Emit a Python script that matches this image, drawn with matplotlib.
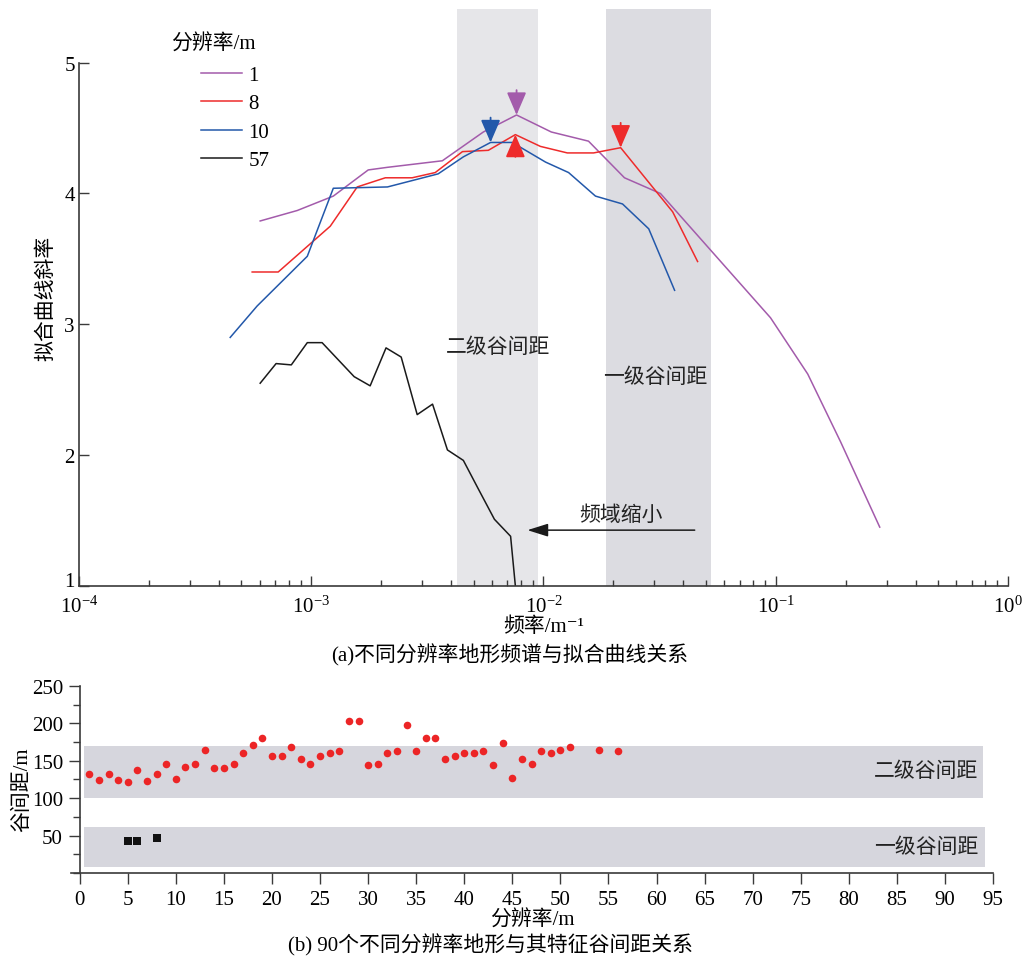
import matplotlib
matplotlib.use("Agg")
import matplotlib.pyplot as plt
import numpy as np
from matplotlib.ticker import LogLocator, LogFormatterMathtext, MultipleLocator
from matplotlib.transforms import ScaledTranslation

plt.rcParams['font.family'] = ['Liberation Serif', 'Noto Sans CJK SC', 'DejaVu Serif']
plt.rcParams['mathtext.fontset'] = 'stix'
plt.rcParams['axes.unicode_minus'] = True

# (a) frequency (1/m) vs fitted slope, per resolution
res_labels = ['1', '8', '10', '57']
res_colors = ['#a35bab', '#ee2b2b', '#2358aa', '#1a1a1a']

f_1m = [6.03e-4, 8.71e-4, 1.245e-3, 1.76e-3, 2.13e-3, 3.67e-3, 5.51e-3, 7.66e-3,
        1.081e-2, 1.563e-2, 2.233e-2, 3.19e-2, 9.5e-2, 0.1374, 0.1905, 0.2805]
s_1m = [3.79, 3.87, 3.98, 4.18, 4.20, 4.25, 4.47, 4.60,
        4.47, 4.40, 4.12, 4.00, 3.05, 2.62, 2.10, 1.45]

f_8m = [5.57e-4, 7.21e-4, 1.208e-3, 1.578e-3, 2.085e-3, 2.72e-3, 3.42e-3, 4.48e-3,
        5.79e-3, 7.57e-3, 9.70e-3, 1.267e-2, 1.644e-2, 2.15e-2, 3.60e-2, 4.61e-2]
s_8m = [3.40, 3.40, 3.75, 4.05, 4.12, 4.12, 4.16, 4.32,
        4.33, 4.45, 4.36, 4.31, 4.31, 4.35, 3.86, 3.48]

f_10m = [4.48e-4, 5.85e-4, 9.62e-4, 1.245e-3, 2.13e-3, 3.52e-3, 4.52e-3, 5.92e-3,
         7.34e-3, 1.021e-2, 1.283e-2, 1.675e-2, 2.19e-2, 2.84e-2, 3.67e-2]
s_10m = [2.90, 3.14, 3.52, 4.04, 4.05, 4.15, 4.28, 4.39,
         4.39, 4.24, 4.16, 3.98, 3.92, 3.73, 3.26]

f_57m = [6.03e-4, 7.06e-4, 8.21e-4, 9.62e-4, 1.114e-3, 1.531e-3, 1.794e-3, 2.10e-3,
         2.44e-3, 2.86e-3, 3.33e-3, 3.86e-3, 4.52e-3, 5.25e-3, 6.15e-3, 7.22e-3, 7.57e-3]
s_57m = [2.55, 2.70, 2.69, 2.86, 2.86, 2.60, 2.53, 2.82,
         2.75, 2.31, 2.39, 2.04, 1.96, 1.74, 1.51, 1.38, 1.0]

band2_f = (4.25e-3, 9.5e-3)    # 二级谷间距
band1_f = (1.85e-2, 5.25e-2)   # 一级谷间距

# (b) resolution vs valley spacing
res_b = list(range(1, 52)) + [54, 56]
gap_b = [132, 124, 132, 124, 121, 138, 123, 132, 146, 126, 142, 146, 165, 140, 140, 146,
         160, 171, 180, 157, 157, 168, 153, 146, 157, 160, 163, 203, 203, 144, 146, 160,
         163, 198, 163, 180, 180, 153, 157, 160, 160, 163, 144, 174, 127, 153, 146, 163,
         160, 165, 168, 165, 163]
res_sq = [5, 6, 8]
gap_sq = [43, 43, 47]

fig = plt.figure(figsize=(10.28, 9.62), dpi=100)
FS = 15
spine_c = '#3a3a3a'

# ---------------- (a) ----------------
ax = fig.add_axes([0.0768, 0.3898, 0.9037, 0.5998])
ax.set_xscale('log')
ax.set_xlim(1e-4, 1)
ax.set_ylim(1, 5.41)

ax.axvspan(*band2_f, color='#e6e6e9', lw=0, zorder=0)
ax.axvspan(*band1_f, color='#dcdce1', lw=0, zorder=0)

series = [(f_1m, s_1m), (f_8m, s_8m), (f_10m, s_10m), (f_57m, s_57m)]
for (fx, sy), lab, c in zip(series, res_labels, res_colors):
    ax.plot(fx, sy, color=c, lw=1.1, label=lab)

# peak arrows
def peak_arrow(fx, sy, i, c, up=False):
    tip = (fx[i], sy[i])
    start = (fx[i], sy[i] - 0.17) if up else (fx[i], sy[i] + 0.19)
    ax.annotate('', xy=tip, xytext=start,
                arrowprops=dict(arrowstyle='-|>,head_length=0.7,head_width=0.3',
                                color=c, lw=1.3, mutation_scale=20, shrinkA=0, shrinkB=0))

peak_arrow(f_1m, s_1m, int(np.argmax(s_1m)), res_colors[0])
peak_arrow(f_10m, s_10m, int(np.argmax(s_10m)), res_colors[2])
peak_arrow(f_8m, s_8m, int(np.argmax(s_8m)), res_colors[1], up=True)
peak_arrow(f_8m, s_8m, 13, res_colors[1])

ax.annotate('', xy=(8.53e-3, 1.427), xytext=(4.48e-2, 1.427),
            arrowprops=dict(arrowstyle='-|>,head_length=0.7,head_width=0.22',
                            color='#1a1a1a', lw=1.1, mutation_scale=18, shrinkA=0, shrinkB=0))
ax.text(2.15e-2, 1.54, '频域缩小', fontsize=FS, ha='center', va='center', color='#222222')
ax.text(6.4e-3, 2.824, '二级谷间距', fontsize=FS, ha='center', va='center', color='#222222')
ax.text(3.04e-2, 2.595, '一级谷间距', fontsize=FS, ha='center', va='center', color='#222222')

leg = ax.legend(loc='upper left', bbox_to_anchor=(0.131, 0.902), frameon=False,
                fontsize=FS, handlelength=2.0, handletextpad=0.3, labelspacing=0.42,
                borderpad=0, borderaxespad=0)
ax.text(0.145, 0.94, '分辨率/m', transform=ax.transAxes, fontsize=FS,
        ha='center', va='center')

for s in ['top', 'right']:
    ax.spines[s].set_visible(False)
for s in ['left', 'bottom']:
    ax.spines[s].set_color(spine_c)
    ax.spines[s].set_linewidth(1.2)
ax.spines['left'].set_bounds(1, 5)
ax.set_yticks([1, 2, 3, 4, 5])
ax.xaxis.set_major_locator(LogLocator(base=10, numticks=10))
ax.xaxis.set_minor_locator(LogLocator(base=10, subs=np.arange(2, 10), numticks=20))
ax.xaxis.set_major_formatter(LogFormatterMathtext())
ax.tick_params(which='major', direction='in', length=7, width=1.0, color=spine_c,
               labelsize=FS, pad=7)
ax.tick_params(which='minor', direction='in', length=4, width=1.0, color=spine_c)
ax.tick_params(axis='y', pad=3)
# lift the "1" label a little so it clears the 10^-4 label
ylabs = ax.get_yticklabels()
ylabs[0].set_transform(ylabs[0].get_transform() + ScaledTranslation(0, 5 / 72, fig.dpi_scale_trans))
ax.set_xlabel('频率/m⁻¹', fontsize=FS, labelpad=0)
ax.set_ylabel('拟合曲线斜率', fontsize=FS, labelpad=6)
fig.text(0.496, 1 - 655 / 962, '(a)不同分辨率地形频谱与拟合曲线关系', fontsize=FS,
         ha='center', va='center')

# ---------------- (b) ----------------
bx = fig.add_axes([0.0691, 0.0915, 0.8969, 0.1944])
bx.set_xlim(-0.9, 95)
bx.set_ylim(0, 250)
bx.axhspan(100, 170, xmin=(0.5 + 0.9) / 95.9, xmax=(94.0 + 0.9) / 95.9,
           color='#d6d6dd', lw=0, zorder=0)
bx.axhspan(8, 62, xmin=(0.5 + 0.9) / 95.9, xmax=(94.2 + 0.9) / 95.9,
           color='#d6d6dd', lw=0, zorder=0)
bx.scatter(res_b, gap_b, s=30, color='#ec2526', lw=0, zorder=3)
bx.scatter(res_sq, gap_sq, s=38, marker='s', color='#111111', lw=0, zorder=3)
bx.text(93.5, 136, '二级谷间距', fontsize=FS, ha='right', va='center', color='#222222')
bx.text(93.5, 34, '一级谷间距', fontsize=FS, ha='right', va='center', color='#222222')

for s in ['top', 'right']:
    bx.spines[s].set_visible(False)
for s in ['left', 'bottom']:
    bx.spines[s].set_color(spine_c)
    bx.spines[s].set_linewidth(1.2)
bx.spines['left'].set_position(('data', 0))
bx.xaxis.set_major_locator(MultipleLocator(5))
bx.yaxis.set_major_locator(MultipleLocator(50))
bx.yaxis.set_minor_locator(MultipleLocator(25))
bx.set_yticks([50, 100, 150, 200, 250])
bx.tick_params(which='major', direction='out', length=8, width=1.0, color=spine_c,
               labelsize=FS, pad=4)
bx.tick_params(which='minor', direction='out', length=5, width=1.0, color=spine_c)
bx.tick_params(axis='x', which='minor', length=0)
bx.set_xlabel('分辨率/m', fontsize=FS, labelpad=1)
bx.set_ylabel('谷间距/m', fontsize=FS, labelpad=4)
bx.yaxis.set_label_coords(-0.042, 0.45)
fig.text(0.477, 1 - 945 / 962, '(b) 90个不同分辨率地形与其特征谷间距关系', fontsize=FS,
         ha='center', va='center')

fig.savefig('out.png', dpi=100)
